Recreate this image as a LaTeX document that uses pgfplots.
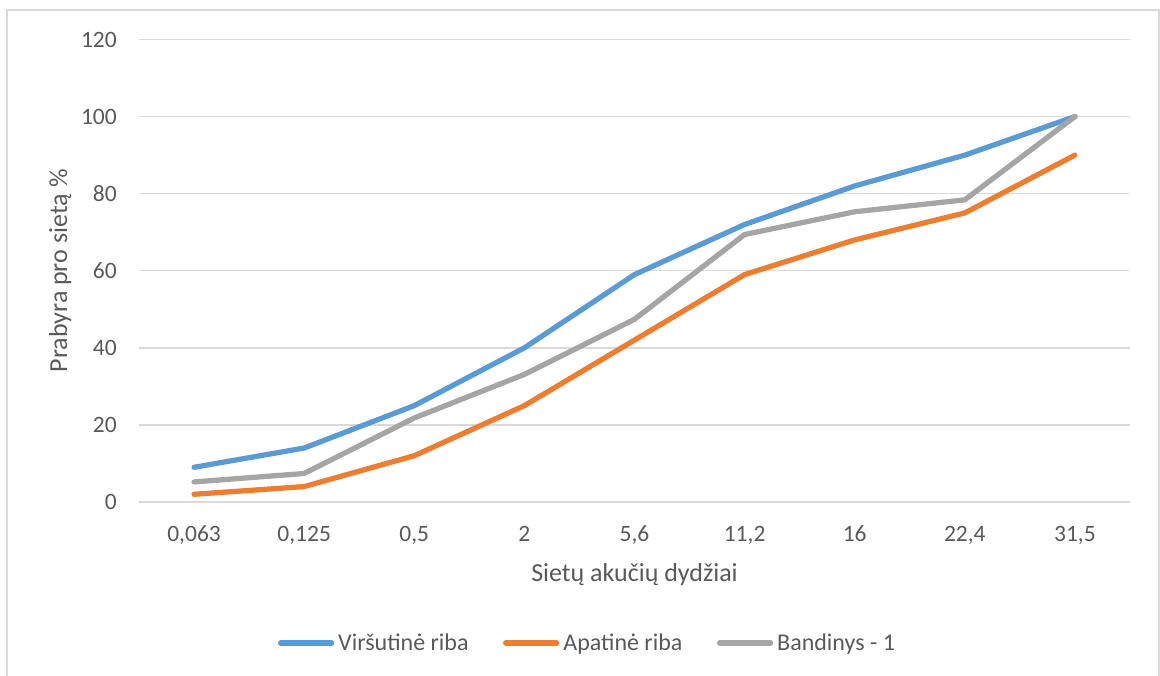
\documentclass[border=0pt]{standalone}
\usepackage{pgfplots}
\pgfplotsset{compat=1.18}
\usepackage{fontspec}
\setmainfont{Carlito}
\definecolor{cblue}{HTML}{5B9BD5}
\definecolor{corange}{HTML}{ED7D31}
\definecolor{cgray}{HTML}{A5A5A5}
\definecolor{ctext}{HTML}{595959}
\definecolor{cgrid}{HTML}{D9D9D9}
\begin{document}
\begin{tikzpicture}[x=1pt,y=1pt]
\path[use as bounding box] (0,0) rectangle (1160,676);
\draw[cgrid, line width=1.5pt] (7,-10) -- (7,666) -- (1159,666) -- (1159,-10);
\begin{axis}[
  at={(139pt,174pt)}, anchor=south west,
  scale only axis, width=991pt, height=462.5pt,
  xmin=-0.5, xmax=8.5, ymin=0, ymax=120,
  xtick={0,...,8},
  xticklabels={{0,063},{0,125},{0,5},{2},{5,6},{11,2},{16},{22,4},{31,5}},
  ytick={0,20,...,120},
  ymajorgrids, grid style={cgrid, line width=1.5pt},
  axis line style={draw=none},
  major tick length=0pt,
  /pgf/number format/assume math mode=true,
  tick label style={font=\fontsize{23.5}{28}\selectfont, text=ctext},
  xticklabel style={anchor=base, yshift=-39.5pt, inner sep=0pt},
  yticklabel style={anchor=east, xshift=-22pt, inner sep=0pt},
  xlabel={Sietų akučių dydžiai},
  xlabel style={at={(axis description cs:0.5,0)}, anchor=base, yshift=-80pt, inner sep=0pt, font=\fontsize{26}{31}\selectfont, text=ctext},
  ylabel={Prabyra pro sietą \%},
  ylabel style={at={(axis description cs:-0.07265,0.5)}, anchor=base, inner sep=0pt, font=\fontsize{26}{31}\selectfont, text=ctext},
  legend columns=3,
  legend cell align=left,
  legend image code/.code={\draw[line width=5.25pt, line cap=round, #1] (0pt,0pt) -- (51pt,0pt);},
  legend style={at={(axis description cs:0.4521,-0.305)}, anchor=center, draw=none, fill=none, inner sep=0pt,
    font=\fontsize{24}{29}\selectfont, text=ctext,
    nodes={inner sep=1pt},
    /tikz/every odd column/.append style={column sep=3pt},
    /tikz/every even column/.append style={column sep=33.5pt}},
  every axis plot/.append style={line width=5.25pt, line cap=round, line join=round, mark=none},
]
\addplot[cblue] coordinates {(0,9) (1,14) (2,25) (3,40) (4,59) (5,72) (6,82) (7,90) (8,100)};
\addlegendentry{Viršutinė riba}
\addplot[corange] coordinates {(0,2) (1,4) (2,12) (3,25) (4,42) (5,59) (6,68) (7,75) (8,90)};
\addlegendentry{Apatinė riba}
\addplot[cgray] coordinates {(0,5.2) (1,7.4) (2,21.8) (3,33.1) (4,47.4) (5,69.4) (6,75.3) (7,78.4) (8,100)};
\addlegendentry{Bandinys - 1}
\end{axis}
\end{tikzpicture}
\end{document}
